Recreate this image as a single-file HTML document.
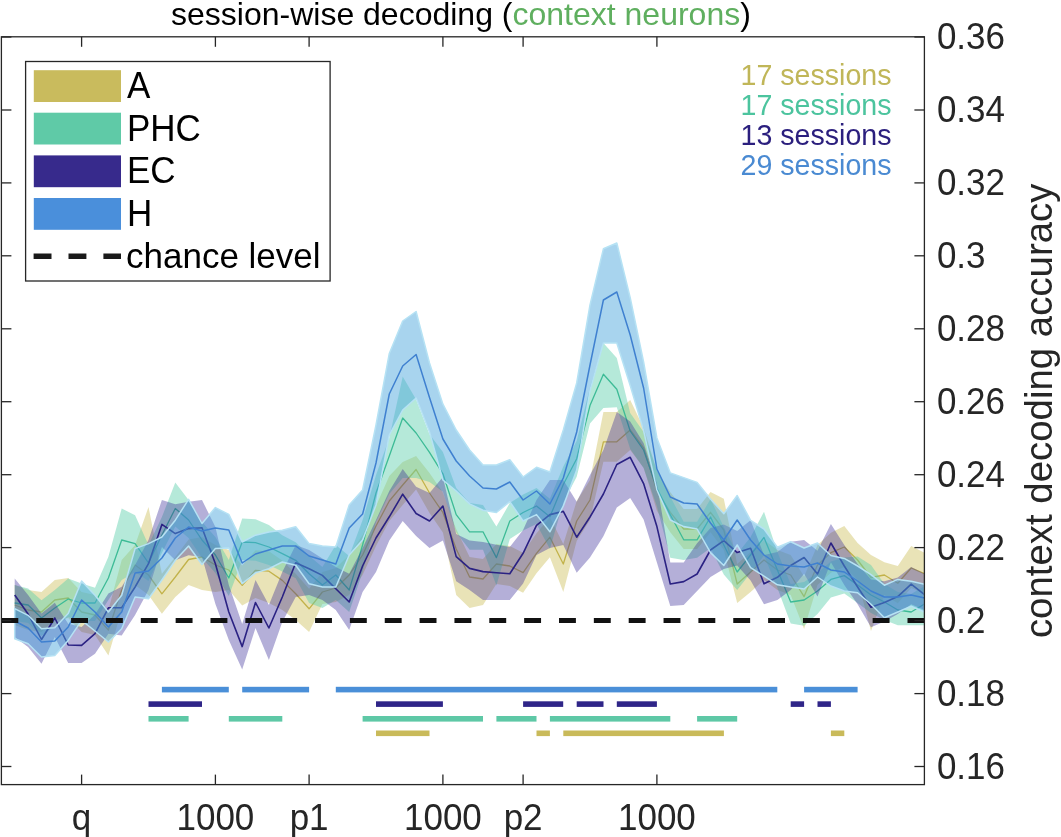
<!DOCTYPE html>
<html><head><meta charset="utf-8"><style>
html,body{margin:0;padding:0;background:#fff;}
svg{display:block;filter:blur(0.4px);}
text{font-family:"Liberation Sans",sans-serif;}
</style></head><body>
<svg width="1061" height="837" viewBox="0 0 1061 837">
<rect width="1061" height="837" fill="#fff"/>
<defs><clipPath id="ax"><rect x="1.4" y="36.8" width="923.0" height="747.8000000000001"/></clipPath></defs>

<g clip-path="url(#ax)">
<polygon points="14.7,585.0 28.1,590.0 41.5,592.0 54.8,580.0 68.2,578.0 81.6,592.0 95.0,595.0 108.4,610.0 121.7,560.0 135.1,545.0 148.5,507.0 161.9,573.8 175.3,557.0 188.6,539.5 202.0,537.0 215.4,545.0 228.8,550.0 242.2,565.4 255.5,550.3 268.9,551.2 282.3,560.4 295.7,573.8 309.1,588.8 322.4,572.0 335.8,568.0 349.2,555.0 362.6,535.0 376.0,506.0 389.3,476.0 402.7,462.0 416.1,456.0 429.5,473.0 442.9,492.5 456.2,529.0 469.6,557.0 483.0,559.0 496.4,544.0 509.8,546.0 523.1,552.7 536.5,533.3 549.9,517.2 563.3,544.0 576.7,501.0 590.0,480.0 603.4,412.0 616.8,412.0 630.2,400.0 643.6,427.8 656.9,470.8 670.3,492.3 683.7,509.0 697.1,509.0 710.5,492.0 723.8,498.7 737.2,564.0 750.6,552.0 764.0,540.0 777.4,550.0 790.7,555.0 804.1,576.6 817.5,545.0 830.9,532.7 844.3,525.9 857.6,543.0 871.0,555.0 884.4,562.2 897.8,566.0 911.2,546.0 924.5,552.7 924.5,593.7 911.2,588.0 897.8,603.3 884.4,595.0 871.0,631.0 857.6,580.0 844.3,567.0 830.9,572.7 817.5,585.0 804.1,629.0 790.7,595.0 777.4,590.0 764.0,580.0 750.6,592.0 737.2,603.0 723.8,550.0 710.5,532.3 697.1,549.0 683.7,549.0 670.3,532.3 656.9,510.8 643.6,467.8 630.2,449.9 616.8,461.8 603.4,461.8 590.0,520.0 576.7,541.0 563.3,592.0 549.9,557.2 536.5,573.3 523.1,592.7 509.8,586.0 496.4,584.0 483.0,605.0 469.6,608.0 456.2,595.0 442.9,532.5 429.5,513.0 416.1,489.5 402.7,505.0 389.3,521.0 376.0,546.0 362.6,575.0 349.2,595.0 335.8,602.0 322.4,604.0 309.1,632.0 295.7,620.0 282.3,610.0 268.9,603.0 255.5,598.0 242.2,605.4 228.8,590.0 215.4,592.0 202.0,590.0 188.6,585.0 175.3,597.0 161.9,613.8 148.5,595.0 135.1,585.0 121.7,610.0 108.4,655.4 95.0,635.0 81.6,632.0 68.2,618.0 54.8,620.0 41.5,632.0 28.1,630.0 14.7,625.0" fill="#CFC060" fill-opacity="0.45"/>
<polyline points="14.7,605.0 28.1,610.0 41.5,612.0 54.8,600.0 68.2,598.0 81.6,612.0 95.0,615.0 108.4,630.0 121.7,590.0 135.1,565.0 148.5,575.0 161.9,593.8 175.3,577.0 188.6,559.5 202.0,557.0 215.4,565.0 228.8,570.0 242.2,585.4 255.5,570.3 268.9,571.2 282.3,580.4 295.7,593.8 309.1,608.8 322.4,592.0 335.8,588.0 349.2,575.0 362.6,555.0 376.0,526.0 389.3,501.0 402.7,485.0 416.1,469.5 429.5,493.0 442.9,512.5 456.2,549.0 469.6,577.0 483.0,579.0 496.4,564.0 509.8,566.0 523.1,572.7 536.5,553.3 549.9,537.2 563.3,564.0 576.7,521.0 590.0,500.0 603.4,441.8 616.8,441.8 630.2,429.9 643.6,447.8 656.9,490.8 670.3,512.3 683.7,529.0 697.1,529.0 710.5,512.3 723.8,530.0 737.2,584.0 750.6,572.0 764.0,560.0 777.4,570.0 790.7,575.0 804.1,596.6 817.5,565.0 830.9,552.7 844.3,547.0 857.6,560.0 871.0,577.5 884.4,575.0 897.8,583.3 911.2,568.0 924.5,573.7" fill="none" stroke="#C2B24A" stroke-width="1.3" stroke-linejoin="round"/>
<polygon points="14.7,585.0 28.1,588.5 41.5,600.2 54.8,590.0 68.2,578.5 81.6,583.5 95.0,587.7 108.4,556.7 121.7,508.5 135.1,515.2 148.5,545.0 161.9,517.0 175.3,482.5 188.6,500.0 202.0,522.0 215.4,537.0 228.8,560.0 242.2,518.5 255.5,519.3 268.9,525.0 282.3,535.2 295.7,542.3 309.1,555.7 322.4,567.0 335.8,545.0 349.2,556.0 362.6,520.0 376.0,475.0 389.3,438.0 402.7,376.5 416.1,399.4 429.5,434.3 442.9,452.0 456.2,488.0 469.6,503.0 483.0,505.0 496.4,526.5 509.8,503.0 523.1,494.5 536.5,488.0 549.9,498.8 563.3,466.5 576.7,440.7 590.0,387.6 603.4,342.9 616.8,358.0 630.2,413.0 643.6,432.0 656.9,470.4 670.3,496.7 683.7,521.8 697.1,521.8 710.5,499.0 723.8,527.0 737.2,554.0 750.6,537.0 764.0,511.7 777.4,552.0 790.7,584.0 804.1,582.0 817.5,573.0 830.9,561.4 844.3,557.6 857.6,556.5 871.0,565.0 884.4,584.0 897.8,592.0 911.2,594.0 924.5,586.0 924.5,625.3 911.2,625.3 897.8,625.3 884.4,620.0 871.0,613.0 857.6,603.0 844.3,593.6 830.9,597.4 817.5,614.0 804.1,625.7 790.7,623.6 777.4,588.0 764.0,555.5 750.6,573.0 737.2,590.0 723.8,574.4 710.5,548.0 697.1,557.7 683.7,560.0 670.3,557.7 656.9,506.4 643.6,468.0 630.2,449.0 616.8,407.2 603.4,408.0 590.0,423.6 576.7,476.7 563.3,502.5 549.9,549.0 536.5,524.0 523.1,530.5 509.8,539.0 496.4,585.6 483.0,549.8 469.6,549.8 456.2,532.6 442.9,491.8 429.5,482.0 416.1,478.0 402.7,478.0 389.3,494.0 376.0,522.0 362.6,572.0 349.2,612.0 335.8,600.0 322.4,608.0 309.1,603.0 295.7,578.3 282.3,571.6 268.9,565.0 255.5,560.7 242.2,560.0 228.8,596.0 215.4,573.0 202.0,558.0 188.6,538.0 175.3,526.5 161.9,553.0 148.5,581.0 135.1,572.0 121.7,580.0 108.4,600.0 95.0,621.0 81.6,621.0 68.2,617.0 54.8,626.0 41.5,636.0 28.1,623.0 14.7,621.0" fill="#5CCFAA" fill-opacity="0.45"/>
<polyline points="14.7,603.0 28.1,605.0 41.5,618.0 54.8,608.0 68.2,599.0 81.6,603.0 95.0,603.0 108.4,578.0 121.7,540.0 135.1,543.6 148.5,563.0 161.9,535.0 175.3,508.5 188.6,520.0 202.0,540.0 215.4,555.0 228.8,578.0 242.2,542.0 255.5,542.7 268.9,547.0 282.3,553.6 295.7,560.3 309.1,573.7 322.4,585.0 335.8,575.0 349.2,590.0 362.6,545.0 376.0,493.0 389.3,456.0 402.7,418.0 416.1,433.0 429.5,452.3 442.9,473.8 456.2,514.6 469.6,531.8 483.0,531.8 496.4,557.6 509.8,521.0 523.1,512.5 536.5,506.0 549.9,516.8 563.3,484.5 576.7,458.7 590.0,405.6 603.4,374.2 616.8,389.2 630.2,431.0 643.6,450.0 656.9,488.4 670.3,514.7 683.7,539.8 697.1,539.8 710.5,517.0 723.8,545.0 737.2,572.0 750.6,555.0 764.0,537.5 777.4,570.0 790.7,602.0 804.1,600.0 817.5,591.0 830.9,579.4 844.3,575.6 857.6,585.0 871.0,595.0 884.4,602.0 897.8,610.0 911.2,612.0 924.5,604.0" fill="none" stroke="#3DBB96" stroke-width="1.3" stroke-linejoin="round"/>
<polygon points="14.7,578.5 28.1,595.0 41.5,613.6 54.8,602.7 68.2,623.7 81.6,627.0 95.0,614.5 108.4,593.5 121.7,586.8 135.1,565.0 148.5,540.0 161.9,500.0 175.3,504.3 188.6,501.8 202.0,500.0 215.4,527.0 228.8,585.0 242.2,624.0 255.5,580.0 268.9,605.0 282.3,572.0 295.7,545.0 309.1,550.0 322.4,558.6 335.8,567.0 349.2,573.7 362.6,548.0 376.0,520.0 389.3,491.0 402.7,469.0 416.1,486.7 429.5,493.0 442.9,477.0 456.2,534.0 469.6,540.4 483.0,542.0 496.4,544.7 509.8,547.0 523.1,530.0 536.5,500.0 549.9,480.0 563.3,480.0 576.7,501.7 590.0,475.0 603.4,450.0 616.8,412.0 630.2,421.5 643.6,443.0 656.9,483.6 670.3,562.4 683.7,562.4 697.1,543.3 710.5,528.0 723.8,524.6 737.2,531.0 750.6,520.3 764.0,555.0 777.4,552.0 790.7,541.8 804.1,540.0 817.5,550.7 830.9,524.0 844.3,545.0 857.6,564.0 871.0,579.4 884.4,581.3 897.8,577.5 911.2,567.0 924.5,573.7 924.5,610.0 911.2,604.3 897.8,614.0 884.4,621.5 871.0,627.2 857.6,604.3 844.3,585.0 830.9,562.2 817.5,596.6 804.1,573.7 790.7,590.0 777.4,600.0 764.0,604.2 750.6,580.5 737.2,565.5 723.8,569.0 710.5,577.0 697.1,591.0 683.7,605.0 670.3,606.0 656.9,562.4 643.6,519.4 630.2,498.0 616.8,507.5 603.4,536.2 590.0,557.6 576.7,572.7 563.3,545.0 549.9,548.0 536.5,555.0 523.1,583.4 509.8,600.0 496.4,600.0 483.0,600.0 469.6,590.0 456.2,581.3 442.9,540.4 429.5,548.0 416.1,536.0 402.7,521.0 389.3,540.4 376.0,572.0 362.6,592.0 349.2,630.0 335.8,610.0 322.4,600.0 309.1,595.0 295.7,597.0 282.3,622.0 268.9,660.0 255.5,628.0 242.2,669.5 228.8,640.0 215.4,604.0 202.0,557.0 188.6,555.3 175.3,560.3 161.9,547.0 148.5,590.0 135.1,615.0 121.7,635.4 108.4,633.7 95.0,653.8 81.6,663.0 68.2,663.0 54.8,637.0 41.5,663.8 28.1,647.0 14.7,637.0" fill="#3A2C98" fill-opacity="0.38"/>
<polyline points="14.7,595.0 28.1,614.0 41.5,639.5 54.8,618.0 68.2,645.0 81.6,645.4 95.0,633.7 108.4,607.8 121.7,607.8 135.1,587.0 148.5,563.7 161.9,524.4 175.3,533.6 188.6,528.6 202.0,527.7 215.4,563.7 228.8,612.0 242.2,646.6 255.5,602.5 268.9,628.0 282.3,597.0 295.7,562.8 309.1,568.7 322.4,575.4 335.8,588.7 349.2,602.0 362.6,566.0 376.0,538.0 389.3,516.8 402.7,494.2 416.1,513.5 429.5,521.0 442.9,506.0 456.2,556.6 469.6,568.4 483.0,571.6 496.4,572.7 509.8,573.8 523.1,553.3 536.5,525.4 549.9,514.6 563.3,511.4 576.7,537.2 590.0,517.0 603.4,494.0 616.8,464.5 630.2,457.3 643.6,483.6 656.9,526.6 670.3,584.0 683.7,581.6 697.1,574.0 710.5,550.0 723.8,540.7 737.2,552.6 750.6,548.2 764.0,583.8 777.4,577.3 790.7,565.5 804.1,557.5 817.5,574.0 830.9,543.0 844.3,566.0 857.6,587.0 871.0,607.2 884.4,602.4 897.8,596.6 911.2,584.2 924.5,594.7" fill="none" stroke="#2B2283" stroke-width="1.6" stroke-linejoin="round"/>
<polygon points="14.7,608.6 28.1,615.3 41.5,628.7 54.8,627.8 68.2,613.6 81.6,581.0 95.0,595.2 108.4,612.0 121.7,595.2 135.1,548.6 148.5,543.6 161.9,537.0 175.3,520.2 188.6,499.3 202.0,523.5 215.4,507.6 228.8,514.3 242.2,542.0 255.5,535.2 268.9,531.9 282.3,530.2 295.7,526.8 309.1,543.6 322.4,546.0 335.8,547.0 349.2,505.0 362.6,490.0 376.0,425.0 389.3,353.5 402.7,321.0 416.1,311.5 429.5,363.0 442.9,404.2 456.2,430.0 469.6,450.0 483.0,465.0 496.4,465.0 509.8,459.8 523.1,477.0 536.5,467.3 549.9,472.0 563.3,430.0 576.7,383.0 590.0,305.0 603.4,248.8 616.8,243.0 630.2,297.7 643.6,362.0 656.9,438.0 670.3,472.9 683.7,477.6 697.1,482.4 710.5,499.0 723.8,513.8 737.2,495.5 750.6,520.3 764.0,529.0 777.4,547.2 790.7,541.8 804.1,548.0 817.5,543.0 830.9,555.5 844.3,558.4 857.6,566.0 871.0,574.6 884.4,585.2 897.8,579.4 911.2,581.3 924.5,584.2 924.5,612.0 911.2,606.2 897.8,612.0 884.4,617.7 871.0,604.3 857.6,592.8 844.3,591.0 830.9,586.0 817.5,577.0 804.1,589.0 790.7,587.0 777.4,584.8 764.0,576.2 750.6,567.6 737.2,545.0 723.8,565.5 710.5,552.6 697.1,529.0 683.7,526.6 670.3,520.0 656.9,490.0 643.6,430.6 630.2,385.5 616.8,342.9 603.4,342.9 590.0,390.5 576.7,470.0 563.3,506.0 549.9,531.8 536.5,514.6 523.1,521.0 509.8,501.7 496.4,512.5 483.0,510.3 469.6,503.9 456.2,491.0 442.9,480.0 429.5,432.0 416.1,398.0 402.7,410.0 389.3,435.0 376.0,505.0 362.6,540.0 349.2,555.0 335.8,587.0 322.4,587.0 309.1,583.7 295.7,565.3 282.3,562.0 268.9,568.7 255.5,572.9 242.2,583.7 228.8,548.0 215.4,548.6 202.0,564.5 188.6,546.0 175.3,560.3 161.9,580.0 148.5,598.8 135.1,597.0 121.7,628.7 108.4,642.0 95.0,631.0 81.6,620.3 68.2,640.4 54.8,655.4 41.5,657.0 28.1,643.7 14.7,638.7" fill="#4AA6DC" fill-opacity="0.48" stroke="#B6E2F4" stroke-width="1.5" stroke-linejoin="round"/>
<polyline points="14.7,621.0 28.1,628.0 41.5,642.0 54.8,641.0 68.2,627.0 81.6,600.0 95.0,612.0 108.4,627.0 121.7,612.0 135.1,573.0 148.5,571.0 161.9,558.0 175.3,538.0 188.6,527.0 202.0,531.0 215.4,528.0 228.8,530.0 242.2,563.0 255.5,554.0 268.9,550.0 282.3,546.0 295.7,546.0 309.1,556.0 322.4,560.0 335.8,564.0 349.2,528.0 362.6,514.0 376.0,463.0 389.3,394.0 402.7,366.0 416.1,354.5 429.5,397.5 442.9,439.0 456.2,461.0 469.6,476.0 483.0,488.0 496.4,489.0 509.8,482.0 523.1,500.0 536.5,491.0 549.9,504.0 563.3,478.0 576.7,432.0 590.0,365.0 603.4,300.0 616.8,292.0 630.2,335.0 643.6,388.0 656.9,469.0 670.3,497.0 683.7,503.0 697.1,504.0 710.5,523.0 723.8,540.0 737.2,520.0 750.6,540.0 764.0,555.0 777.4,564.0 790.7,566.0 804.1,567.0 817.5,563.0 830.9,570.0 844.3,572.0 857.6,581.0 871.0,591.0 884.4,597.0 897.8,597.0 911.2,595.0 924.5,598.0" fill="none" stroke="#3F80D0" stroke-width="1.5" stroke-linejoin="round"/>
</g>
<line x1="1.4" y1="620.4" x2="924.4" y2="620.4" stroke="#111" stroke-width="5" stroke-dasharray="16.9 17.95"/>
<rect x="161.9" y="686.8" width="66.9" height="5.6" fill="#4A8FD8"/>
<rect x="242.2" y="686.8" width="66.9" height="5.6" fill="#4A8FD8"/>
<rect x="335.8" y="686.8" width="441.5" height="5.6" fill="#4A8FD8"/>
<rect x="804.1" y="686.8" width="53.5" height="5.6" fill="#4A8FD8"/>
<rect x="148.5" y="701.3" width="53.5" height="5.6" fill="#2F2588"/>
<rect x="376.0" y="701.3" width="66.9" height="5.6" fill="#2F2588"/>
<rect x="523.1" y="701.3" width="40.1" height="5.6" fill="#2F2588"/>
<rect x="576.7" y="701.3" width="26.8" height="5.6" fill="#2F2588"/>
<rect x="616.8" y="701.3" width="40.1" height="5.6" fill="#2F2588"/>
<rect x="790.7" y="701.3" width="13.4" height="5.6" fill="#2F2588"/>
<rect x="817.5" y="701.3" width="13.4" height="5.6" fill="#2F2588"/>
<rect x="148.5" y="716.0" width="40.1" height="5.6" fill="#5EC8A6"/>
<rect x="228.8" y="716.0" width="53.5" height="5.6" fill="#5EC8A6"/>
<rect x="362.6" y="716.0" width="120.4" height="5.6" fill="#5EC8A6"/>
<rect x="496.4" y="716.0" width="40.1" height="5.6" fill="#5EC8A6"/>
<rect x="549.9" y="716.0" width="120.4" height="5.6" fill="#5EC8A6"/>
<rect x="697.1" y="716.0" width="40.1" height="5.6" fill="#5EC8A6"/>
<rect x="376.0" y="730.5" width="53.5" height="5.6" fill="#C9BA5A"/>
<rect x="536.5" y="730.5" width="13.4" height="5.6" fill="#C9BA5A"/>
<rect x="563.3" y="730.5" width="160.6" height="5.6" fill="#C9BA5A"/>
<rect x="830.9" y="730.5" width="13.4" height="5.6" fill="#C9BA5A"/>
<rect x="1.4" y="36.8" width="923.0" height="747.8000000000001" fill="none" stroke="#262626" stroke-width="1.3"/>
<line x1="81.6" y1="784.6" x2="81.6" y2="774.6" stroke="#262626" stroke-width="1.3"/>
<line x1="81.6" y1="36.8" x2="81.6" y2="46.8" stroke="#262626" stroke-width="1.3"/>
<text transform="translate(81.6,829.6) scale(1,1.04)" font-size="35" text-anchor="middle" fill="#262626">q</text>
<line x1="215.4" y1="784.6" x2="215.4" y2="774.6" stroke="#262626" stroke-width="1.3"/>
<line x1="215.4" y1="36.8" x2="215.4" y2="46.8" stroke="#262626" stroke-width="1.3"/>
<text transform="translate(215.4,829.6) scale(1,1.04)" font-size="35" text-anchor="middle" fill="#262626">1000</text>
<line x1="309.1" y1="784.6" x2="309.1" y2="774.6" stroke="#262626" stroke-width="1.3"/>
<line x1="309.1" y1="36.8" x2="309.1" y2="46.8" stroke="#262626" stroke-width="1.3"/>
<text transform="translate(309.1,829.6) scale(1,1.04)" font-size="35" text-anchor="middle" fill="#262626">p1</text>
<line x1="442.9" y1="784.6" x2="442.9" y2="774.6" stroke="#262626" stroke-width="1.3"/>
<line x1="442.9" y1="36.8" x2="442.9" y2="46.8" stroke="#262626" stroke-width="1.3"/>
<text transform="translate(442.9,829.6) scale(1,1.04)" font-size="35" text-anchor="middle" fill="#262626">1000</text>
<line x1="523.1" y1="784.6" x2="523.1" y2="774.6" stroke="#262626" stroke-width="1.3"/>
<line x1="523.1" y1="36.8" x2="523.1" y2="46.8" stroke="#262626" stroke-width="1.3"/>
<text transform="translate(523.1,829.6) scale(1,1.04)" font-size="35" text-anchor="middle" fill="#262626">p2</text>
<line x1="656.9" y1="784.6" x2="656.9" y2="774.6" stroke="#262626" stroke-width="1.3"/>
<line x1="656.9" y1="36.8" x2="656.9" y2="46.8" stroke="#262626" stroke-width="1.3"/>
<text transform="translate(656.9,829.6) scale(1,1.04)" font-size="35" text-anchor="middle" fill="#262626">1000</text>
<line x1="1.4" y1="766.5" x2="11.4" y2="766.5" stroke="#262626" stroke-width="1.3"/>
<line x1="924.4" y1="766.5" x2="914.4" y2="766.5" stroke="#262626" stroke-width="1.3"/>
<text transform="translate(936.9,778.9) scale(1,1.045)" font-size="35" fill="#262626">0.16</text>
<line x1="1.4" y1="693.6" x2="11.4" y2="693.6" stroke="#262626" stroke-width="1.3"/>
<line x1="924.4" y1="693.6" x2="914.4" y2="693.6" stroke="#262626" stroke-width="1.3"/>
<text transform="translate(936.9,706.0) scale(1,1.045)" font-size="35" fill="#262626">0.18</text>
<line x1="1.4" y1="620.6" x2="11.4" y2="620.6" stroke="#262626" stroke-width="1.3"/>
<line x1="924.4" y1="620.6" x2="914.4" y2="620.6" stroke="#262626" stroke-width="1.3"/>
<text transform="translate(936.9,633.0) scale(1,1.045)" font-size="35" fill="#262626">0.2</text>
<line x1="1.4" y1="547.6" x2="11.4" y2="547.6" stroke="#262626" stroke-width="1.3"/>
<line x1="924.4" y1="547.6" x2="914.4" y2="547.6" stroke="#262626" stroke-width="1.3"/>
<text transform="translate(936.9,560.0) scale(1,1.045)" font-size="35" fill="#262626">0.22</text>
<line x1="1.4" y1="474.7" x2="11.4" y2="474.7" stroke="#262626" stroke-width="1.3"/>
<line x1="924.4" y1="474.7" x2="914.4" y2="474.7" stroke="#262626" stroke-width="1.3"/>
<text transform="translate(936.9,487.1) scale(1,1.045)" font-size="35" fill="#262626">0.24</text>
<line x1="1.4" y1="401.7" x2="11.4" y2="401.7" stroke="#262626" stroke-width="1.3"/>
<line x1="924.4" y1="401.7" x2="914.4" y2="401.7" stroke="#262626" stroke-width="1.3"/>
<text transform="translate(936.9,414.1) scale(1,1.045)" font-size="35" fill="#262626">0.26</text>
<line x1="1.4" y1="328.8" x2="11.4" y2="328.8" stroke="#262626" stroke-width="1.3"/>
<line x1="924.4" y1="328.8" x2="914.4" y2="328.8" stroke="#262626" stroke-width="1.3"/>
<text transform="translate(936.9,341.2) scale(1,1.045)" font-size="35" fill="#262626">0.28</text>
<line x1="1.4" y1="255.8" x2="11.4" y2="255.8" stroke="#262626" stroke-width="1.3"/>
<line x1="924.4" y1="255.8" x2="914.4" y2="255.8" stroke="#262626" stroke-width="1.3"/>
<text transform="translate(936.9,268.2) scale(1,1.045)" font-size="35" fill="#262626">0.3</text>
<line x1="1.4" y1="182.9" x2="11.4" y2="182.9" stroke="#262626" stroke-width="1.3"/>
<line x1="924.4" y1="182.9" x2="914.4" y2="182.9" stroke="#262626" stroke-width="1.3"/>
<text transform="translate(936.9,195.3) scale(1,1.045)" font-size="35" fill="#262626">0.32</text>
<line x1="1.4" y1="110.0" x2="11.4" y2="110.0" stroke="#262626" stroke-width="1.3"/>
<line x1="924.4" y1="110.0" x2="914.4" y2="110.0" stroke="#262626" stroke-width="1.3"/>
<text transform="translate(936.9,122.4) scale(1,1.045)" font-size="35" fill="#262626">0.34</text>
<line x1="1.4" y1="37.0" x2="11.4" y2="37.0" stroke="#262626" stroke-width="1.3"/>
<line x1="924.4" y1="37.0" x2="914.4" y2="37.0" stroke="#262626" stroke-width="1.3"/>
<text transform="translate(936.9,49.4) scale(1,1.045)" font-size="35" fill="#262626">0.36</text>
<text transform="translate(1052.3,410.8) rotate(-90)" font-size="38.4" text-anchor="middle" fill="#262626">context decoding accuracy</text>
<text x="171" y="25" font-size="32" fill="#000">session-wise decoding (<tspan fill="#5FAF5F">context neurons</tspan>)</text>
<text x="740.5" y="85.1" font-size="28.6" fill="#C0B658">17 sessions</text>
<text x="740.5" y="115.1" font-size="28.6" fill="#4CC49E">17 sessions</text>
<text x="740.5" y="144.6" font-size="28.6" fill="#2B1F7E">13 sessions</text>
<text x="740.5" y="174.5" font-size="28.6" fill="#4A8AD2">29 sessions</text>
<rect x="25.6" y="61.5" width="304.5" height="219.5" fill="#fff" stroke="#262626" stroke-width="1.3"/>
<rect x="33.8" y="70.2" width="87.2" height="31.8" fill="#C9BB5D"/>
<text transform="translate(127,98.4) scale(1,1.04)" font-size="35" fill="#000">A</text>
<rect x="33.8" y="112.7" width="87.2" height="31.8" fill="#5FCAA7"/>
<text transform="translate(127,140.7) scale(1,1.04)" font-size="35" fill="#000">PHC</text>
<rect x="33.8" y="155.4" width="87.2" height="31.8" fill="#372A8C"/>
<text transform="translate(127,183.4) scale(1,1.04)" font-size="35" fill="#000">EC</text>
<rect x="33.8" y="198" width="87.2" height="31.8" fill="#4A8FDB"/>
<text transform="translate(127,225.9) scale(1,1.04)" font-size="35" fill="#000">H</text>
<line x1="33.6" y1="256.3" x2="121" y2="256.3" stroke="#1a1a1a" stroke-width="5.6" stroke-dasharray="17.9 17"/>
<text x="126" y="268" font-size="35" fill="#000">chance level</text>
</svg></body></html>
